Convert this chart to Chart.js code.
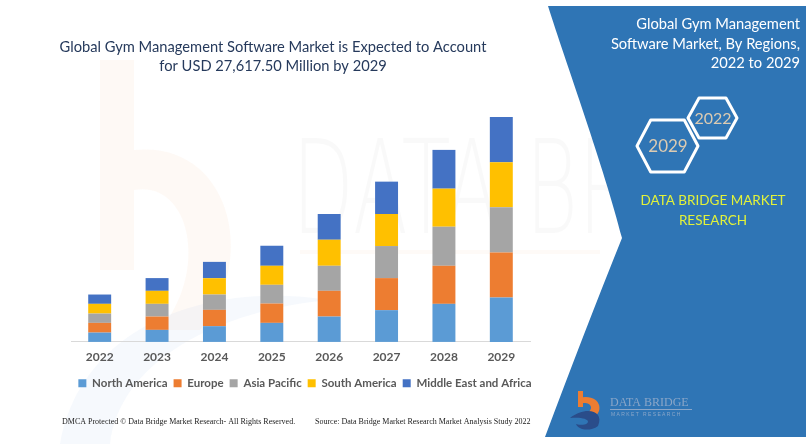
<!DOCTYPE html>
<html>
<head>
<meta charset="utf-8">
<script src="https://cdn.jsdelivr.net/npm/chart.js@4"></script>
<style>
  body { margin: 0; background: #fff; }
  #wrap { width: 806px; height: 444px; }
</style>
</head>
<body>
<div id="wrap"><canvas id="canvas" width="806" height="444"></canvas></div>
<script>
// values in USD million
var years = ['2022', '2023', '2024', '2025', '2026', '2027', '2028', '2029'];
var northAmerica     = [1144, 1476, 1931, 2337, 3112, 3899, 4674, 5450];
var europe           = [1193, 1636, 2005, 2374, 3161, 3936, 4674, 5540];
var asiaPacific      = [1144, 1562, 1882, 2300, 3075, 3936, 4797, 5540];
var southAmerica     = [1193, 1599, 2005, 2337, 3198, 3936, 4674, 5540];
var middleEastAfrica = [1144, 1562, 2005, 2460, 3161, 3973, 4760, 5547.5];

var titleLines = ['Global Gym Management Software Market is Expected to Account', 'for USD 27,617.50 Million by 2029'];
var panelLines = ['Global Gym Management', 'Software Market, By Regions,', '2022 to 2029'];
var brandLines = ['DATA BRIDGE MARKET', 'RESEARCH'];
var footerLeft = 'DMCA Protected \u00a9 Data Bridge Market Research- All Rights Reserved.';
var footerRight = 'Source: Data Bridge Market Research Market Analysis Study 2022';

function hexagon(ctx, cx, cy, hw, hh) {
  var fw = hw * 0.55;
  ctx.beginPath();
  ctx.moveTo(cx - hw, cy);
  ctx.lineTo(cx - fw, cy - hh);
  ctx.lineTo(cx + fw, cy - hh);
  ctx.lineTo(cx + hw, cy);
  ctx.lineTo(cx + fw, cy + hh);
  ctx.lineTo(cx - fw, cy + hh);
  ctx.closePath();
  ctx.stroke();
}

var decor = {
  id: 'decor',
  beforeDraw: function (chart) {
    var ctx = chart.ctx;
    ctx.save();
    ctx.fillStyle = '#fff';
    ctx.fillRect(0, 0, 806, 444);

    // faint watermark
    ctx.fillStyle = 'rgba(250, 200, 160, 0.1)';
    ctx.fillRect(100, 60, 34, 210);
    ctx.beginPath();
    ctx.moveTo(134, 150);
    ctx.bezierCurveTo(230, 140, 260, 260, 200, 330);
    ctx.lineTo(160, 330);
    ctx.bezierCurveTo(210, 270, 190, 180, 134, 190);
    ctx.closePath();
    ctx.fill();
    ctx.fillStyle = 'rgba(180, 205, 235, 0.12)';
    ctx.beginPath();
    ctx.moveTo(60, 444);
    ctx.bezierCurveTo(80, 330, 200, 280, 330, 300);
    ctx.bezierCurveTo(220, 310, 120, 360, 110, 444);
    ctx.closePath();
    ctx.fill();
    ctx.fillStyle = 'rgba(0, 0, 0, 0.025)';
    ctx.font = '200 130px "DejaVu Sans"';
    ctx.textBaseline = 'alphabetic';
    ctx.save();
    ctx.translate(292, 233);
    ctx.scale(0.62, 1);
    ctx.fillText('DATA BR', 0, 0);
    ctx.restore();
    ctx.fillStyle = 'rgba(240, 150, 90, 0.05)';
    ctx.fillRect(300, 250, 300, 4);

    // blue panel
    ctx.fillStyle = '#2f75b5';
    ctx.beginPath();
    ctx.moveTo(548, 6);
    ctx.bezierCurveTo(565, 60, 605, 170, 622, 238);
    ctx.quadraticCurveTo(585, 330, 545, 437);
    ctx.lineTo(806, 437);
    ctx.lineTo(806, 6);
    ctx.closePath();
    ctx.fill();

    // main title
    ctx.fillStyle = '#263a5c';
    ctx.font = '14.7px Lato';
    ctx.textAlign = 'center';
    ctx.textBaseline = 'middle';
    ctx.fillText(titleLines[0], 273, 47);
    ctx.fillText(titleLines[1], 273, 66);

    // panel title
    ctx.fillStyle = '#fff';
    ctx.font = '14.7px Lato';
    ctx.textAlign = 'right';
    ctx.fillText(panelLines[0], 800, 24);
    ctx.fillText(panelLines[1], 800, 44);
    ctx.fillText(panelLines[2], 800, 63);

    // hexagons
    ctx.strokeStyle = '#fff';
    ctx.lineWidth = 3;
    ctx.lineJoin = 'round';
    hexagon(ctx, 712.5, 118, 24.5, 20);
    hexagon(ctx, 667.5, 146, 30.5, 26);
    ctx.fillStyle = '#dccbb2';
    ctx.textAlign = 'center';
    ctx.font = '16px Lato';
    ctx.fillText('2022', 713, 119);
    ctx.font = '17px Lato';
    ctx.fillText('2029', 668, 147);

    // brand text
    ctx.fillStyle = '#e2f23a';
    ctx.font = '13.5px Lato';
    ctx.fillText(brandLines[0], 713, 201);
    ctx.fillText(brandLines[1], 713, 221);

    // bottom logo
    ctx.fillStyle = '#ed7d31';
    ctx.fillRect(578, 391, 5, 16);
    ctx.beginPath();
    ctx.moveTo(578, 398);
    ctx.bezierCurveTo(600, 392, 606, 412, 592, 418);
    ctx.lineTo(586, 414);
    ctx.bezierCurveTo(596, 408, 590, 400, 578, 404);
    ctx.closePath();
    ctx.fill();
    ctx.fillStyle = '#2a4d8a';
    ctx.beginPath();
    ctx.moveTo(570, 418);
    ctx.bezierCurveTo(585, 406, 605, 410, 598, 426);
    ctx.bezierCurveTo(590, 432, 578, 430, 576, 424);
    ctx.bezierCurveTo(590, 428, 596, 416, 570, 418);
    ctx.closePath();
    ctx.fill();
    ctx.fillStyle = '#8aa6c8';
    ctx.font = '12px "Liberation Serif"';
    ctx.textAlign = 'left';
    ctx.fillText('DATA BRIDGE', 610, 403);
    ctx.fillRect(610, 409, 82, 1);
    ctx.font = '5px "Liberation Sans"';
    ctx.fillText('M A R K E T   R E S E A R C H', 611, 415);

    // footer
    ctx.fillStyle = '#222';
    ctx.font = '8px "Liberation Serif"';
    ctx.textAlign = 'left';
    ctx.fillText(footerLeft, 62, 422);
    ctx.fillText(footerRight, 315, 422);
    ctx.restore();
  }
};

var ctx = document.getElementById('canvas').getContext('2d');
var config = {
  type: 'bar',
  data: {
    labels: years,
    datasets: [
      { label: 'North America', data: northAmerica, backgroundColor: '#5b9bd5' },
      { label: 'Europe', data: europe, backgroundColor: '#ed7d31' },
      { label: 'Asia Pacific', data: asiaPacific, backgroundColor: '#a5a5a5' },
      { label: 'South America', data: southAmerica, backgroundColor: '#ffc000' },
      { label: 'Middle East and Africa', data: middleEastAfrica, backgroundColor: '#4472c4' }
    ]
  },
  options: {
    responsive: false,
    animation: false,
    devicePixelRatio: 1,
    // wide padding box so the legend fits on one row; side axes take up the rest
    layout: { padding: { left: 40, right: 236, top: 117, bottom: 45 } },
    datasets: { bar: { barPercentage: 0.4, categoryPercentage: 1 } },
    scales: {
      x: {
        stacked: true,
        grid: { display: false, drawTicks: false },
        border: { display: true, color: '#d9d9d9' },
        ticks: { color: '#595959', padding: 10, font: { family: 'Lato', size: 12, weight: 'bold', lineHeight: 0.8 } }
      },
      y: {
        stacked: true,
        display: true,
        min: 0,
        max: 27617.5,
        grid: { display: false },
        border: { display: false },
        ticks: { display: false },
        afterFit: function (scale) { scale.width = 31; }
      },
      y2: {
        position: 'right',
        display: true,
        grid: { display: false },
        border: { display: false },
        ticks: { display: false },
        afterFit: function (scale) { scale.width = 40; }
      }
    },
    plugins: {
      tooltip: { enabled: false },
      legend: {
        position: 'bottom',
        labels: {
          boxWidth: 8,
          boxHeight: 8,
          padding: 6,
          color: '#595959',
          font: { family: 'Lato', size: 11.5, weight: 'bold' }
        }
      }
    }
  },
  plugins: [decor]
};
var chart = new Chart(ctx, config);
</script>
</body>
</html>
